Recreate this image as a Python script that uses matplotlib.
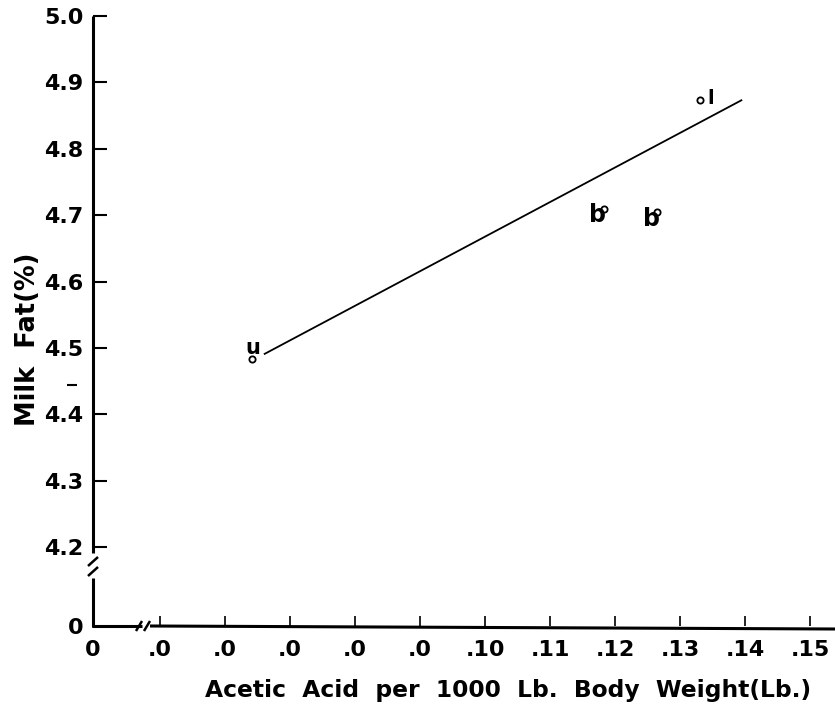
import matplotlib.pyplot as plt
from matplotlib.lines import Line2D

# data
pt_x = [0.0641, 0.1183, 0.1265, 0.1330]
pt_y = [4.483, 4.709, 4.705, 4.874]
pt_lab = ['u', 'b', 'b', 'l']
line_x = [0.0661, 0.1394]
line_y = [4.491, 4.873]

ytick_vals = [4.2, 4.3, 4.4, 4.5, 4.6, 4.7, 4.8, 4.9, 5.0]
ytick_lab = ['4.2', '4.3', '4.4', '4.5', '4.6', '4.7', '4.8', '4.9', '5.0']
xtick_vals = [0.05, 0.06, 0.07, 0.08, 0.09, 0.10, 0.11, 0.12, 0.13, 0.14, 0.15]
xtick_lab = ['.0', '.0', '.0', '.0', '.0', '.10', '.11', '.12', '.13', '.14', '.15']

W, H = 835, 714
fig = plt.figure(figsize=(W / 100, H / 100), dpi=100)
ax = fig.add_axes([93 / W, 1 - 626 / H, (W - 93) / W, (626 - 16) / H])

x0, y0 = 0.0397, 4.081  # where the broken axes put "0"
ax.set_xlim(x0, 0.1538)
ax.set_ylim(y0, 5.0)

ax.plot(line_x, line_y, color='black', lw=1.3)
ax.plot(pt_x, pt_y, 'o', mfc='white', mec='black', ms=4.5, mew=1.3)

# letter beside each point, offsets in points
offs = [(1, 8), (-5, -4), (-4, -5), (8, 1)]
sizes = [15, 17, 17, 14]
for x, y, s, o, fs in zip(pt_x, pt_y, pt_lab, offs, sizes):
    ax.annotate(s, (x, y), xytext=o, textcoords='offset points',
                ha='center', va='center', fontsize=fs, fontweight='bold')

for s in ax.spines.values():
    s.set_visible(False)

ax.set_yticks([y0] + ytick_vals)
ax.set_yticklabels(['0'] + ytick_lab)
ax.set_xticks([x0] + xtick_vals)
ax.set_xticklabels(['0'] + xtick_lab)
ax.tick_params(axis='y', direction='in', length=10, width=1.5, pad=7,
               labelsize=16)
ax.tick_params(axis='x', direction='in', length=7, width=1.2, pad=10,
               labelsize=16)
ax.yaxis.get_major_ticks()[0].tick1line.set_visible(False)
ax.xaxis.get_major_ticks()[0].tick1line.set_visible(False)
for lab in ax.get_xticklabels() + ax.get_yticklabels():
    lab.set_fontweight('bold')


# hand drawn axes with the break marks, in pixel coords of the figure
def seg(xs, ys, lw=2.2):
    fig.add_artist(Line2D([x / W for x in xs], [1 - y / H for y in ys],
                          color='black', lw=lw, solid_capstyle='butt'))


seg([93, 93], [16, 553])
seg([93, 93], [578, 627])
seg([88, 98], [566, 557], lw=1.8)
seg([88, 98], [576, 567], lw=1.8)
seg([92, 142], [626, 626])
seg([150, 835], [626, 629])
seg([136, 142], [631, 621], lw=1.8)
seg([144, 150], [631, 621], lw=1.8)
seg([67, 77], [385, 385], lw=1.5)

fig.text(28 / W, 1 - 339 / H, 'Milk  Fat(%)', rotation=90, ha='center',
         va='center', fontsize=18.5, fontweight='bold')
fig.text(508 / W, 1 - 690 / H, 'Acetic  Acid  per  1000  Lb.  Body  Weight(Lb.)',
         ha='center', va='center', fontsize=16.8, fontweight='bold')

fig.savefig('out.png', dpi=100)
